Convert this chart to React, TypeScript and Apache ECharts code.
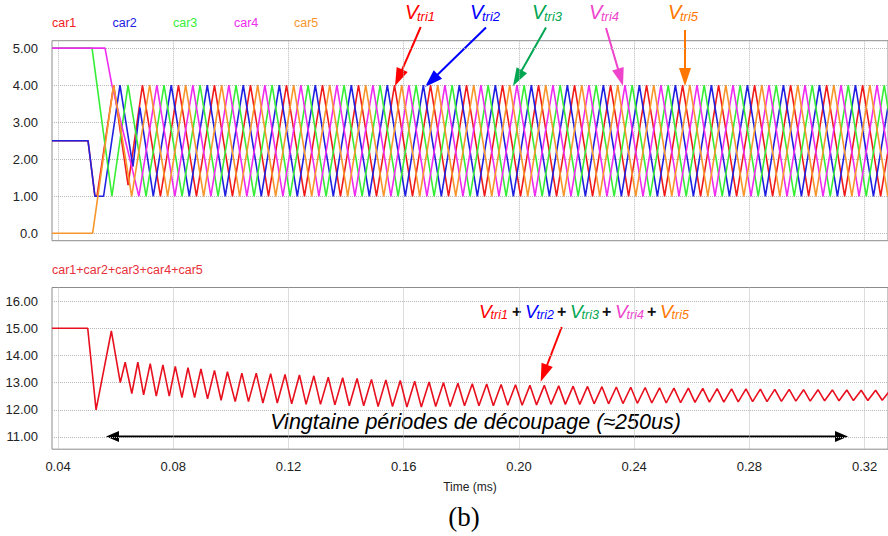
import React, { useEffect, useRef } from "react";
import * as echarts from "echarts";

// time in microseconds (axis labels shown in ms)
const xTicks = [40, 80, 120, 160, 200, 240, 280, 320];
const topYTicks = [0, 1, 2, 3, 4, 5];
const bottomYTicks = [11, 12, 13, 14, 15, 16];
const carNames = ["car1", "car2", "car3", "car4", "car5"];
const carColors = ["#f01c1c", "#2020e0", "#36ee36", "#ee2cee", "#f8962c"];

const car1: [number, number][] = [[37.9,2.5],[50.4,2.5],[52.8,1],[53.5,1],[59.3,4],[64.3,1.3],[69.3,4],[75.55,1],[81.8,4],[88.05,1],[94.3,4],[100.55,1],[106.8,4],[113.05,1],[119.3,4],[125.55,1],[131.8,4],[138.05,1],[144.3,4],[150.55,1],[156.8,4],[163.05,1],[169.3,4],[175.55,1],[181.8,4],[188.05,1],[194.3,4],[200.55,1],[206.8,4],[213.05,1],[219.3,4],[225.55,1],[231.8,4],[238.05,1],[244.3,4],[250.55,1],[256.8,4],[263.05,1],[269.3,4],[275.55,1],[281.8,4],[288.05,1],[294.3,4],[300.55,1],[306.8,4],[313.05,1],[319.3,4],[325.55,1],[331.8,4]];
const car2: [number, number][] = [[37.9,2.5],[50.4,2.5],[52.8,1],[55.8,1],[61.5,4],[66.0,1.8],[68.4,3.4],[73.05,1],[79.3,4],[85.55,1],[91.8,4],[98.05,1],[104.3,4],[110.55,1],[116.8,4],[123.05,1],[129.3,4],[135.55,1],[141.8,4],[148.05,1],[154.3,4],[160.55,1],[166.8,4],[173.05,1],[179.3,4],[185.55,1],[191.8,4],[198.05,1],[204.3,4],[210.55,1],[216.8,4],[223.05,1],[229.3,4],[235.55,1],[241.8,4],[248.05,1],[254.3,4],[260.55,1],[266.8,4],[273.05,1],[279.3,4],[285.55,1],[291.8,4],[298.05,1],[304.3,4],[310.55,1],[316.8,4],[323.05,1],[329.3,4]];
const car3: [number, number][] = [[37.9,5],[51.8,5],[58.7,1],[64.3,4],[70.55,1],[76.8,4],[83.05,1],[89.3,4],[95.55,1],[101.8,4],[108.05,1],[114.3,4],[120.55,1],[126.8,4],[133.05,1],[139.3,4],[145.55,1],[151.8,4],[158.05,1],[164.3,4],[170.55,1],[176.8,4],[183.05,1],[189.3,4],[195.55,1],[201.8,4],[208.05,1],[214.3,4],[220.55,1],[226.8,4],[233.05,1],[239.3,4],[245.55,1],[251.8,4],[258.05,1],[264.3,4],[270.55,1],[276.8,4],[283.05,1],[289.3,4],[295.55,1],[301.8,4],[308.05,1],[314.3,4],[320.55,1],[326.8,4],[333.05,1]];
const car4: [number, number][] = [[37.9,5],[56.3,5],[58.7,4],[68.05,1],[74.3,4],[80.55,1],[86.8,4],[93.05,1],[99.3,4],[105.55,1],[111.8,4],[118.05,1],[124.3,4],[130.55,1],[136.8,4],[143.05,1],[149.3,4],[155.55,1],[161.8,4],[168.05,1],[174.3,4],[180.55,1],[186.8,4],[193.05,1],[199.3,4],[205.55,1],[211.8,4],[218.05,1],[224.3,4],[230.55,1],[236.8,4],[243.05,1],[249.3,4],[255.55,1],[261.8,4],[268.05,1],[274.3,4],[280.55,1],[286.8,4],[293.05,1],[299.3,4],[305.55,1],[311.8,4],[318.05,1],[324.3,4],[330.55,1]];
const car5: [number, number][] = [[37.9,0],[52.0,0],[59.3,4],[65.55,1],[71.8,4],[78.05,1],[84.3,4],[90.55,1],[96.8,4],[103.05,1],[109.3,4],[115.55,1],[121.8,4],[128.05,1],[134.3,4],[140.55,1],[146.8,4],[153.05,1],[159.3,4],[165.55,1],[171.8,4],[178.05,1],[184.3,4],[190.55,1],[196.8,4],[203.05,1],[209.3,4],[215.55,1],[221.8,4],[228.05,1],[234.3,4],[240.55,1],[246.8,4],[253.05,1],[259.3,4],[265.55,1],[271.8,4],[278.05,1],[284.3,4],[290.55,1],[296.8,4],[303.05,1],[309.3,4],[315.55,1],[321.8,4],[328.05,1]];

const carSum: [number, number][] = [[37.9,15],[50.3,15],[53.2,12],[58.5,14.9],[61.6,13.0],[63.3,13.75],[65.6,12.6],[67.7,13.75],[69.7,12.55],[72.0,13.7],[74.1,12.5],[76.4,13.65],[78.6,12.5],[80.7,13.6],[83.0,12.45],[85.1,13.55],[87.4,12.45],[89.6,13.5],[91.9,12.4],[94.3,13.45],[96.6,12.35],[98.8,13.4],[101.5,12.3],[103.8,13.35],[106.1,12.3],
[108.8,13.35],[111.1,12.25],[113.8,13.33],[116.1,12.25],[118.8,13.3],[121.1,12.22],[123.8,13.28],[126.1,12.2],[128.8,13.25],[131.1,12.2],[133.8,13.2],[136.1,12.18],[138.8,13.18],[141.1,12.15],[143.8,13.15],[146.1,12.15],[148.8,13.12],[151.1,12.12],[153.8,13.1],[156.1,12.12],[158.8,13.08],[161.1,12.1],[163.8,13.05],[166.1,12.1],[168.8,13.02],[171.1,12.12],[173.8,13.0],[176.1,12.12],[178.8,12.98],[181.1,12.15],[183.8,12.96],[186.1,12.15],[188.8,12.95],[191.1,12.15],[193.8,12.93],[196.1,12.17],[198.8,12.92],[201.1,12.17],[203.8,12.9],[206.1,12.18],[208.8,12.9],[211.1,12.2],[213.8,12.88],[216.1,12.2],[218.8,12.87],[221.1,12.2],[223.8,12.86],[226.1,12.22],[228.8,12.85],[231.1,12.22],[233.8,12.84],[236.1,12.23],[238.8,12.83],[241.1,12.24],[243.8,12.82],[246.1,12.25],[248.8,12.81],[251.1,12.25],[253.8,12.8],[256.1,12.26],[258.8,12.8],[261.1,12.27],[263.8,12.79],[266.1,12.28],[268.8,12.78],[271.1,12.28],[273.8,12.77],[276.1,12.29],[278.8,12.77],[281.1,12.3],[283.8,12.76],[286.1,12.3],[288.8,12.75],[291.1,12.31],[293.8,12.75],[296.1,12.32],[298.8,12.74],[301.1,12.32],[303.8,12.74],[306.1,12.33],[308.8,12.73],[311.1,12.33],[313.8,12.73],[316.1,12.34],[318.8,12.72],[321.1,12.34],[323.8,12.72],[326.1,12.35],[328.8,12.71]];

const SANS = "Liberation Sans, Arial, sans-serif";
const NARROW = "Liberation Sans Narrow, Liberation Sans, Arial, sans-serif";

function arrow(x1: number, y1: number, x2: number, y2: number, color: string, hl = 18, hw = 12, lw = 2) {
  const dx = x2 - x1, dy = y2 - y1;
  const len = Math.sqrt(dx * dx + dy * dy);
  const ux = dx / len, uy = dy / len;
  const bx = x2 - ux * hl, by = y2 - uy * hl;
  const px = -uy, py = ux;
  return [
    { type: "line", shape: { x1, y1, x2: bx + ux * 2, y2: by + uy * 2 }, style: { stroke: color, lineWidth: lw }, silent: true },
    { type: "polygon", shape: { points: [[x2, y2], [bx + px * hw / 2, by + py * hw / 2], [bx - px * hw / 2, by - py * hw / 2]] }, style: { fill: color }, silent: true },
  ];
}

function vtri(x: number, y: number, sub: string, color: string, vs = 20, ss = 13, subX = 12) {
  return [
    { type: "text", x, y, style: { text: "V", fill: color, font: `italic ${vs}px ${SANS}`, textAlign: "left", textVerticalAlign: "middle" }, silent: true },
    { type: "text", x: x + subX, y: y + 4, style: { text: sub, fill: color, font: `italic ${ss}px ${SANS}`, textAlign: "left", textVerticalAlign: "middle" }, silent: true },
  ];
}

function plus(x: number, y: number) {
  return { type: "text", x, y, style: { text: "+", fill: "#111", font: `bold 16px ${SANS}`, textAlign: "left", textVerticalAlign: "middle" }, silent: true };
}

const gridLine = { show: true, lineStyle: { type: "dotted" as const, color: "#b8b8b8", width: 1 } };

export default function App() {
  const ref = useRef<HTMLDivElement>(null);
  useEffect(() => {
    const chart = echarts.init(ref.current!, null, { renderer: "svg" });
    const cars = [car1, car2, car3, car4, car5];
    const legendX = [52, 112.5, 173, 234, 294];
    const graphics: any[] = [];
    carNames.forEach((n, i) => {
      graphics.push({ type: "text", x: legendX[i], y: 23, style: { text: n, fill: carColors[i], font: `12.5px ${SANS}`, textAlign: "left", textVerticalAlign: "middle" }, silent: true });
    });
    graphics.push({ type: "text", x: 52, y: 270, style: { text: "car1+car2+car3+car4+car5", fill: "#e8303a", font: `12.5px ${SANS}`, textAlign: "left", textVerticalAlign: "middle" }, silent: true });
    // top annotations
    graphics.push(...vtri(405, 12, "tri1", "#ff0000"));
    graphics.push(...vtri(470, 12, "tri2", "#0000ff"));
    graphics.push(...vtri(532, 12, "tri3", "#00a651"));
    graphics.push(...vtri(589, 12, "tri4", "#ee44cc"));
    graphics.push(...vtri(668, 12, "tri5", "#ff7700"));
    graphics.push(...arrow(420.7, 27, 395, 86, "#ff0000"));
    graphics.push(...arrow(486, 27.5, 425, 87, "#0000ff"));
    graphics.push(...arrow(546, 27.5, 513, 86, "#00a651"));
    graphics.push(...arrow(606, 28, 623, 86, "#ee44cc"));
    graphics.push(...arrow(685, 30, 685, 86, "#ff7700"));
    // bottom annotation
    graphics.push(...vtri(479, 311, "tri1", "#ff0000", 19, 12.5, 11.5));
    graphics.push(plus(512, 311));
    graphics.push(...vtri(525, 311, "tri2", "#0000ff", 19, 12.5, 11.5));
    graphics.push(plus(557, 311));
    graphics.push(...vtri(570, 311, "tri3", "#00a651", 19, 12.5, 11.5));
    graphics.push(plus(602, 311));
    graphics.push(...vtri(615, 311, "tri4", "#ee44cc", 19, 12.5, 11.5));
    graphics.push(plus(647, 311));
    graphics.push(...vtri(660, 311, "tri5", "#ff7700", 19, 12.5, 11.5));
    graphics.push(...arrow(561.7, 327, 540.7, 381.7, "#ff0000"));
    // double arrow
    graphics.push({ type: "line", shape: { x1: 115, y1: 436.5, x2: 839, y2: 436.5 }, style: { stroke: "#000", lineWidth: 2.2 }, silent: true });
    graphics.push({ type: "polygon", shape: { points: [[106, 436.5], [119, 431], [119, 442]] }, style: { fill: "#000" }, silent: true });
    graphics.push({ type: "polygon", shape: { points: [[848, 436.5], [835, 431], [835, 442]] }, style: { fill: "#000" }, silent: true });
    graphics.push({ type: "text", x: 475.5, y: 422, style: { text: "Vingtaine périodes de découpage (≈250us)", fill: "#000", font: `italic 21.5px ${SANS}`, textAlign: "center", textVerticalAlign: "middle" }, silent: true });
    graphics.push({ type: "text", x: 464, y: 517, style: { text: "(b)", fill: "#000", font: `27px Liberation Serif, Times New Roman, serif`, textAlign: "center", textVerticalAlign: "middle" }, silent: true });

    const xAxisBase = (gi: number, labels: boolean) => ({
      type: "value",
      gridIndex: gi,
      min: 37.9,
      max: 328.1,
      axisLine: { show: false },
      axisTick: { show: false, customValues: xTicks },
      axisLabel: {
        show: labels,
        customValues: xTicks,
        formatter: (v: number) => (v / 1000).toFixed(2),
        color: "#222",
        fontFamily: NARROW,
        fontSize: 13,
        margin: 11,
      },
      splitLine: gridLine,
      name: labels ? "Time (ms)" : "",
      nameLocation: "middle",
      nameGap: 32,
      nameTextStyle: { color: "#222", fontFamily: NARROW, fontSize: 12 },
    });

    const option: any = {
      animation: false,
      backgroundColor: "#fff",
      grid: [
        { left: 52, top: 40.7, right: -1, height: 200, show: true, borderColor: "#8c8c8c", borderWidth: 1, backgroundColor: "transparent" },
        { left: 52, top: 287.5, right: -1, height: 161.7, show: true, borderColor: "#8c8c8c", borderWidth: 1, backgroundColor: "transparent" },
      ],
      xAxis: [xAxisBase(0, false), xAxisBase(1, true)],
      yAxis: [
        {
          type: "value", gridIndex: 0, min: -0.2, max: 5.2,
          axisLine: { show: false },
          axisTick: { show: false, customValues: topYTicks },
          axisLabel: { customValues: topYTicks, formatter: (v: number) => (v === 0 ? "0.0" : v.toFixed(2)), color: "#222", fontFamily: SANS, fontSize: 13, margin: 14 },
          splitLine: gridLine,
        },
        {
          type: "value", gridIndex: 1, min: 10.55, max: 16.5,
          axisLine: { show: false },
          axisTick: { show: false, customValues: bottomYTicks },
          axisLabel: { customValues: bottomYTicks, formatter: (v: number) => v.toFixed(2), color: "#222", fontFamily: SANS, fontSize: 13, margin: 14 },
          splitLine: gridLine,
        },
      ],
      series: [
        ...cars.map((d, i) => ({
          name: carNames[i],
          type: "line",
          xAxisIndex: 0,
          yAxisIndex: 0,
          data: d,
          showSymbol: false,
          symbol: "none",
          lineStyle: { color: carColors[i], width: 1.6 },
          itemStyle: { color: carColors[i] },
          clip: true,
        })),
        {
          name: "car1+car2+car3+car4+car5",
          type: "line",
          xAxisIndex: 1,
          yAxisIndex: 1,
          data: carSum,
          showSymbol: false,
          symbol: "none",
          lineStyle: { color: "#e8101e", width: 1.6 },
          clip: true,
        },
      ],
      graphic: graphics,
    };
    chart.setOption(option);
    return () => chart.dispose();
  }, []);
  return <div ref={ref} style={{ position: "fixed", left: 0, top: 0, width: 888, height: 536, background: "#fff" }} />;
}
